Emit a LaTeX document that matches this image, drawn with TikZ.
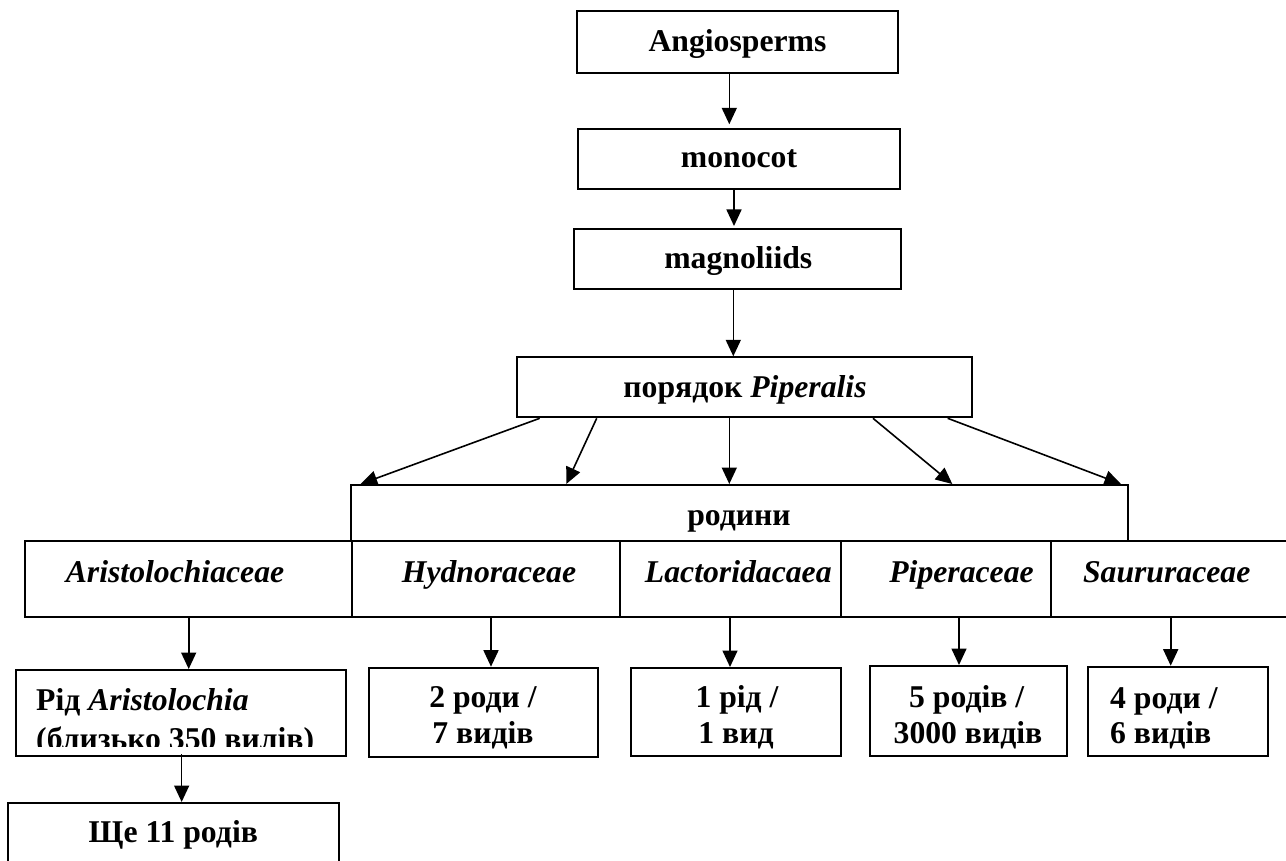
\documentclass[tikz,border=0pt]{standalone}
\usepackage{fontspec}
\setmainfont{Liberation Serif}
\usetikzlibrary{arrows.meta}
\begin{document}
\begin{tikzpicture}[x=1pt,y=-1pt,
  font=\fontsize{31.7}{38}\selectfont\bfseries,
  box/.style={draw, line width=2pt, inner sep=0pt, rectangle},
  arr/.style={line width=1.6pt, -{Triangle[length=16.5pt,width=15pt]}},
  lbl/.style={anchor=base, inner sep=0pt},
  lblw/.style={anchor=base west, inner sep=0pt}]
\useasboundingbox (0,0) rectangle (1286,861);
\clip (0,0) rectangle (1286,861);

% top chain
\node[box, minimum width=321.6pt, minimum height=62.6pt] (ang) at (737.5,42) {};
\node[box, minimum width=321.7pt, minimum height=59.7pt] (mono) at (739.15,159.15) {};
\node[box, minimum width=327pt, minimum height=59.7pt] (mag) at (737.5,258.85) {};
\node[box, minimum width=455.6pt, minimum height=60pt] (pip) at (744.5,387.3) {};
\node[box, minimum width=777.6pt, minimum height=55.7pt] (rod) at (739.5,512.85) {};

% families row
\node[box, minimum width=326.7pt, minimum height=76pt] (fam1) at (188.35,578.7) {};
\node[box, minimum width=267.8pt, minimum height=76pt] (fam2) at (485.6,578.7) {};
\node[box, minimum width=221.2pt, minimum height=76pt] (fam3) at (730.1,578.7) {};
\node[box, minimum width=210pt, minimum height=76pt] (fam4) at (945.7,578.7) {};
\node[box, minimum width=249.3pt, minimum height=76pt] (fam5) at (1175.35,578.7) {};

% lower boxes
\node[box, minimum width=330pt, minimum height=86pt] (b1) at (180.7,713) {};
\node[box, minimum width=229pt, minimum height=89pt] (b2) at (483.8,712.2) {};
\node[box, minimum width=210pt, minimum height=88pt] (b3) at (736,712) {};
\node[box, minimum width=196.7pt, minimum height=90pt] (b4) at (968.35,711) {};
\node[box, minimum width=180pt, minimum height=89.3pt] (b5) at (1178.3,711.35) {};
\node[box, minimum width=330.7pt, minimum height=77pt] (b6) at (173.65,841.5) {};

% labels
\node[lbl] (tang) at (737.5,52) {Angiosperms};
\node[lbl] (tmono) at (739,168) {monocot};
\node[lbl] (tmag) at (738.3,268.3) {magnoliids};
\node[lbl] (tpip) at (745,397) {порядок \textit{Piperalis}};
\node[lbl] (trod) at (739,525) {родини};
\node[lbl] (tf1) at (175,582) {\textit{Aristolochiaceae}};
\node[lbl] (tf2) at (489,582) {\textit{Hydnoraceae}};
\node[lbl] (tf3) at (738.3,582) {\textit{Lactoridacaea}};
\node[lbl] (tf4) at (961.5,582) {\textit{Piperaceae}};
\node[lbl] (tf5) at (1166.7,582) {\textit{Saururaceae}};
\node[lblw] (tb1a) at (36,710) {Рід \textit{Aristolochia}};
\begin{scope}
  \clip (16,715) rectangle (345,746);
  \node[lblw] (tb1b) at (36,749) {(близько 350 вилів)};
\end{scope}
\node[lbl] (tb2a) at (483,707) {2 роди /};
\node[lbl] (tb2b) at (483,743) {7 видів};
\node[lbl] (tb3a) at (737,707) {1 рід /};
\node[lbl] (tb3b) at (736,743) {1 вид};
\node[lbl] (tb4a) at (966.7,707) {5 родів /};
\node[lbl] (tb4b) at (968,743) {3000 видів};
\node[lblw] (tb5a) at (1110,708) {4 роди /};
\node[lblw] (tb5b) at (1110,743) {6 видів};
\node[lbl] (tb6) at (173.3,842) {Ще 11 родів};

% connectors
\draw[arr, shorten >=4pt] ([xshift=-8.2pt]ang.south) -- ([xshift=-8.2pt]ang.south |- mono.north);
\draw[arr, shorten >=2pt] ([xshift=-5.15pt]mono.south) -- ([xshift=-5.15pt]mono.south |- mag.north);
\draw[arr] ([xshift=-4.2pt]mag.south) -- ([xshift=-4.2pt]mag.south |- pip.north);

\draw[arr] ([xshift=24pt]pip.south west) -- ([xshift=11pt]rod.north west);
\draw[arr] ([xshift=81pt]pip.south west) -- ([xshift=216.6pt]rod.north west);
\draw[arr] ([xshift=-15.2pt]pip.south) -- ([xshift=-15.2pt]pip.south |- rod.north);
\draw[arr] ([xshift=357.3pt]pip.south west) -- ([xshift=602.6pt]rod.north west);
\draw[arr] ([xshift=-25.6pt]pip.south east) -- ([xshift=-8.3pt]rod.north east);

\draw[arr] ([xshift=8pt]b1.north |- fam1.south) -- ([xshift=8pt]b1.north);
\draw[arr] ([xshift=7.2pt]b2.north |- fam2.south) -- ([xshift=7.2pt]b2.north);
\draw[arr] ([xshift=-6pt]b3.north |- fam3.south) -- ([xshift=-6pt]b3.north);
\draw[arr] ([xshift=-9.35pt]b4.north |- fam4.south) -- ([xshift=-9.35pt]b4.north);
\draw[arr] ([xshift=-7.6pt]b5.north |- fam5.south) -- ([xshift=-7.6pt]b5.north);
\draw[arr] ([xshift=8pt,yshift=3pt]b6.north |- b1.south) -- ([xshift=8pt]b6.north);
\end{tikzpicture}
\end{document}
